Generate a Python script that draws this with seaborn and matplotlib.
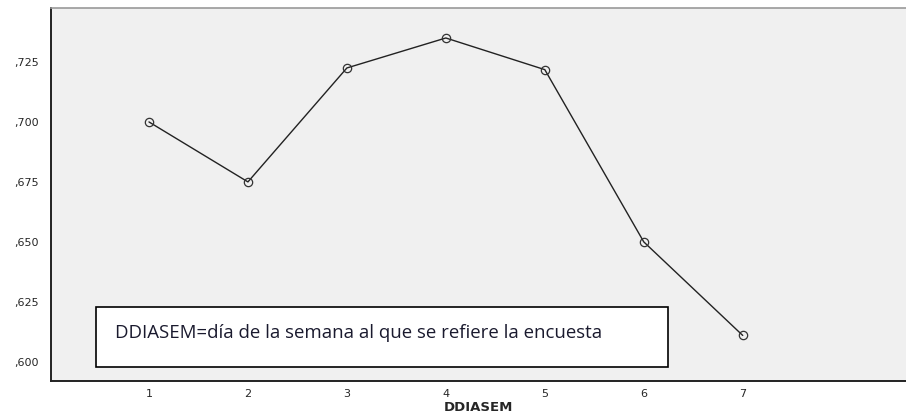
import matplotlib
matplotlib.use("Agg")
import matplotlib.pyplot as plt
import matplotlib.ticker as mticker
import pandas as pd
import seaborn as sns

# datos
dias = [1, 2, 3, 4, 5, 6, 7]
medias = [0.700, 0.675, 0.7225, 0.735, 0.7218, 0.650, 0.611]
y_ticks = [0.600, 0.625, 0.650, 0.675, 0.700, 0.725]
nota = "DDIASEM=día de la semana al que se refiere la encuesta"

df = pd.DataFrame({"DDIASEM": dias, "media": medias})

sns.set_style("white")
plt.rcParams["font.family"] = ["DejaVu Sans"]

fig = plt.figure(figsize=(9.06, 4.19), dpi=100)
ax = fig.add_axes([51 / 906, 1 - 381 / 419, 1 - 51 / 906, (381 - 8) / 419])
ax.set_facecolor("#f0f0f0")

sns.lineplot(data=df, x="DDIASEM", y="media", ax=ax, color="#222222", linewidth=1.0,
             marker="o", markersize=6, markerfacecolor="none", markeredgecolor="#333333",
             markeredgewidth=0.9)

ax.set_xlim(0.01, 8.65)
ax.set_ylim(0.592, 0.7475)
ax.set_xticks(dias)
ax.set_yticks(y_ticks)
ax.yaxis.set_major_formatter(mticker.FuncFormatter(lambda v, p: f"{v:.3f}".lstrip("0").replace(".", ",")))
ax.tick_params(axis="both", labelsize=8, length=5, width=1.2, color="#333333", direction="out")
ax.tick_params(axis="x", pad=1)

for s in ["left", "bottom"]:
    ax.spines[s].set_color("#222222")
    ax.spines[s].set_linewidth(1.4)
ax.spines["top"].set_color("#999999")
ax.spines["top"].set_linewidth(1.2)
ax.spines["right"].set_visible(False)

ax.set_ylabel("")
ax.set_xlabel("DDIASEM", fontsize=9.5, fontweight="bold", labelpad=1)

# recuadro con la nota
fig.patches.append(plt.Rectangle((96 / 906, 1 - 367 / 419), (668 - 96) / 906, 60 / 419,
                                 transform=fig.transFigure, facecolor="white",
                                 edgecolor="black", linewidth=1.2, zorder=5))
fig.text(115 / 906, 1 - 333 / 419, nota, fontsize=13.4, family="Open Sans",
         color="#1a1a2e", va="center", ha="left", zorder=6)

fig.savefig("out.png", dpi=100)
